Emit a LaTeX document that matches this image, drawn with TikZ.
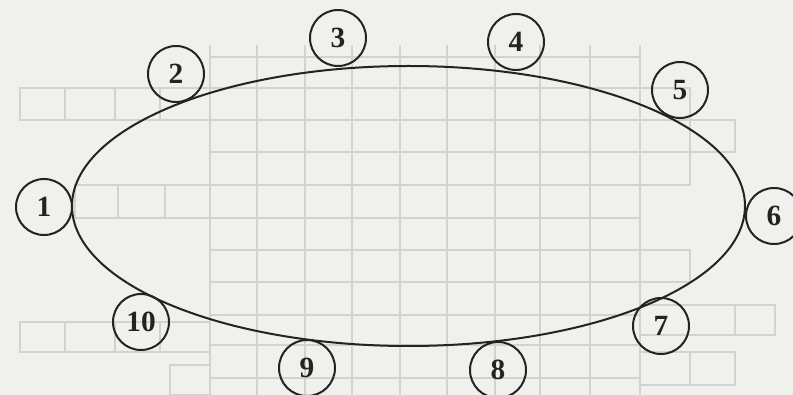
\documentclass[tikz,border=0pt]{standalone}
\usepackage{fontspec}
\setmainfont{Liberation Serif}
\usetikzlibrary{positioning}
\definecolor{cpaper}{RGB}{240,240,237}
\definecolor{cghost}{RGB}{210,210,208}
\definecolor{cink}{RGB}{35,35,35}

\begin{document}
\begin{tikzpicture}[
  x=0.75pt, y=-0.75pt,
  font=\fontsize{22}{22}\selectfont\bfseries,
  num/.style={circle, draw=cink, line width=1.5pt, minimum size=42pt,
              inner sep=0pt, text=cink},
  ring/.style={draw=cink, line width=1.5pt},
  ghost/.style={draw=cghost, line width=1pt}
]

% ---------- paper ----------
\fill[cpaper] (0,0) rectangle (793,395);
\useasboundingbox (0,0) rectangle (793,395);

% ---------- show-through grid ----------
\foreach \gx in {210,257,305,352,400,447,495,540,590,640}
  \draw[ghost] (\gx,45) -- (\gx,395);
\foreach \gy in {57,88,120,152,185,218,250,282,315,345,378}
  \draw[ghost] (210,\gy) -- (640,\gy);
% left words
\draw[ghost] (20,88) rectangle (210,120);
\foreach \gx in {65,115,160}
  \draw[ghost] (\gx,88) -- (\gx,120);
\draw[ghost] (75,185) rectangle (210,218);
\foreach \gx in {118,165}
  \draw[ghost] (\gx,185) -- (\gx,218);
\draw[ghost] (20,322) rectangle (210,352);
\foreach \gx in {65,115,160}
  \draw[ghost] (\gx,322) -- (\gx,352);
\draw[ghost] (170,365) rectangle (210,395);
% right words
\draw[ghost] (640,88) rectangle (690,185);
\draw[ghost] (640,120) -- (735,120) -- (735,152) -- (640,152);
\draw[ghost] (640,250) rectangle (690,282);
\draw[ghost] (640,305) rectangle (775,335);
\draw[ghost] (735,305) -- (735,335);
\draw[ghost] (640,352) rectangle (735,385);
\draw[ghost] (690,352) -- (690,385);

% ---------- ellipse ----------
\draw[ring] (408.5,206) ellipse [x radius=336.5, y radius=140];

% ---------- numbered circles ----------
\node[num] (n1)  at (44,207)  {1};
\node[num] (n2)  at (176,74)  {2};
\node[num] (n3)  at (338,38)  {3};
\node[num] (n4)  at (516,42)  {4};
\node[num] (n5)  at (680,90)  {5};
\node[num] (n6)  at (774,216) {6};
\node[num] (n7)  at (661,326) {7};
\node[num] (n8)  at (498,370) {8};
\node[num] (n9)  at (307,368) {9};
\node[num] (n10) at (141,322) {10};

\end{tikzpicture}
\end{document}
